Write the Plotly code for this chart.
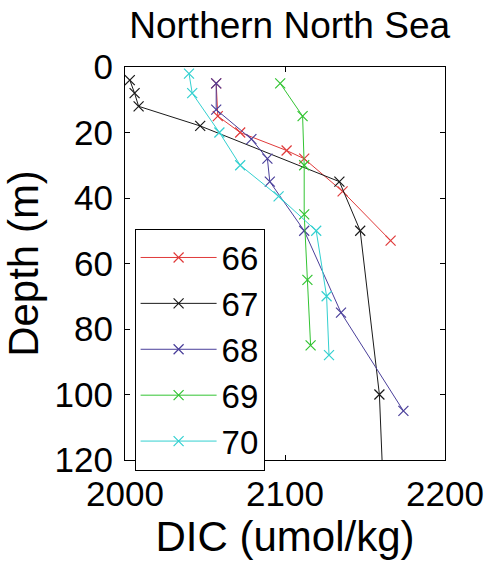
import plotly.graph_objects as go

FONT = "Liberation Sans, Arial, sans-serif"

names = ["66", "67", "68", "69", "70"]
colors = ["#e03a3a", "#1a1a1a", "#4a3f9a", "#33c433", "#33d0d0"]

dic_66 = [2057, 2058, 2072, 2101, 2112, 2136, 2166]
depth_66 = [5, 15, 20, 25.5, 28, 38, 53]

dic_67 = [2003, 2006, 2008.5, 2047, 2134, 2147, 2159, 2161.5]
depth_67 = [4, 8, 12, 18, 35, 50, 100, 130]

dic_68 = [2057, 2057, 2079, 2089, 2090.5, 2112, 2135, 2174]
depth_68 = [5, 13, 22, 28, 35, 50, 75, 105]

dic_69 = [2097, 2111, 2112, 2112, 2114, 2116]
depth_69 = [5, 15, 30, 45, 65, 85]

dic_70 = [2040, 2042, 2059, 2072, 2096, 2119.5, 2126, 2127.5]
depth_70 = [2, 8, 20, 30, 39.5, 50, 70, 88]

xs = [dic_66, dic_67, dic_68, dic_69, dic_70]
ys = [depth_66, depth_67, depth_68, depth_69, depth_70]

x_ticks = [2000, 2100, 2200]
y_ticks = [0, 20, 40, 60, 80, 100, 120]

fig = go.Figure()
for n, c, x, y in zip(names, colors, xs, ys):
    fig.add_trace(go.Scatter(
        x=x, y=y, name=n, mode="lines+markers",
        line=dict(color=c, width=1),
        marker=dict(symbol="x-thin", size=10, line=dict(color=c, width=1.2), color=c),
        cliponaxis=True,
    ))

fig.update_layout(
    width=496, height=561,
    margin=dict(l=125, r=42, t=67, b=85),
    paper_bgcolor="white", plot_bgcolor="white",
    font=dict(family=FONT, size=35, color="black"),
    title=dict(text="Northern North Sea", x=0.584, xanchor="center",
               y=0.955, yanchor="middle", font=dict(size=37, family=FONT)),
    showlegend=True,
    legend=dict(x=0.03, xanchor="left", y=0.589, yanchor="top",
                bordercolor="black", borderwidth=1, bgcolor="white",
                font=dict(size=33, family=FONT), itemwidth=76,
                tracegroupgap=0, itemsizing="trace"),
)
fig.update_xaxes(
    range=[2000, 2200], tickvals=x_ticks, ticktext=[str(v) for v in x_ticks],
    ticks="inside", ticklen=5, tickcolor="black",
    showline=True, linecolor="black", linewidth=1, mirror="ticks",
    showgrid=False, zeroline=False,
    title=dict(text="DIC (umol/kg)", standoff=7),
    tickfont=dict(size=35), ticklabelstandoff=3,
)
fig.update_yaxes(
    range=[120, 0], tickvals=y_ticks, ticktext=[str(v) for v in y_ticks],
    ticks="inside", ticklen=5, tickcolor="black",
    showline=True, linecolor="black", linewidth=1, mirror="ticks",
    showgrid=False, zeroline=False,
    title=dict(text="Depth (m)", standoff=6),
    tickfont=dict(size=35), ticklabelstandoff=4,
)

fig.write_html("out.html")
